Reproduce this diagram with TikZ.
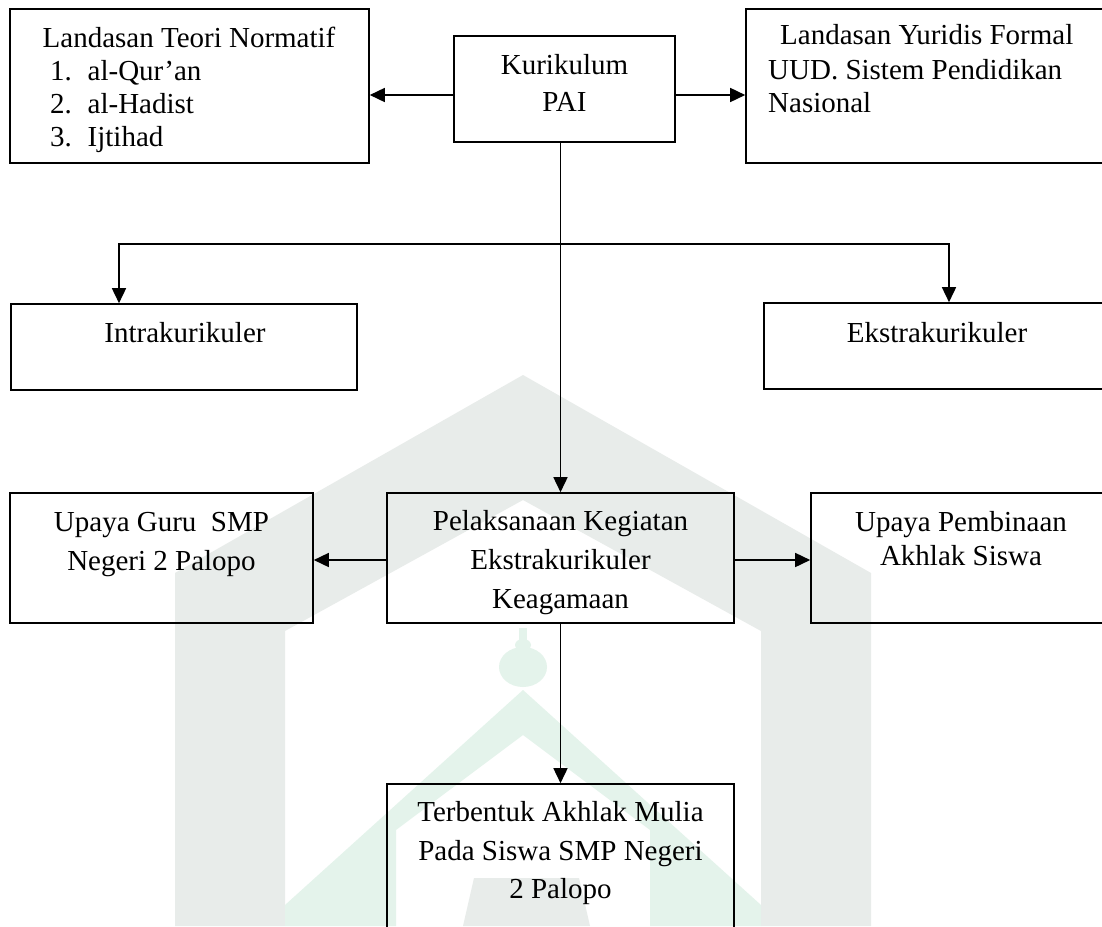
\documentclass[tikz,border=0pt]{standalone}
\usepackage{fontspec}
\setmainfont{Liberation Serif}
\usetikzlibrary{arrows.meta,calc}
\definecolor{wmgray}{RGB}{232,236,234}
\definecolor{wmgreen}{RGB}{228,243,235}
\begin{document}
\begin{tikzpicture}[x=1pt,y=-1pt,
  box/.style={draw, line width=1.6pt, inner sep=0pt},
  txt/.style={inner sep=0pt, anchor=base, font=\fontsize{29}{34}\selectfont},
  ltxt/.style={txt, anchor=base west},
  conn/.style={line width=1.6pt},
  arr/.style={conn, -{Triangle[length=15pt,width=14pt]}},
  darr/.style={conn, {Triangle[length=15pt,width=14pt]}-{Triangle[length=15pt,width=14pt]}},
]
\clip (0,0) rectangle (1102,926);
\fill[white] (0,0) rectangle (1102,926);
% watermark (faint)
\fill[wmgray] (175,926) -- (175,573) -- (523,375) -- (871,573) -- (871,926) -- (761,926)
  -- (761,631) -- (523,500) -- (285,631) -- (285,926) -- cycle;
\fill[wmgreen] (285,905) -- (523,690) -- (761,905) -- (761,926) -- (650,926) -- (650,830)
  -- (523,735) -- (396,830) -- (396,926) -- (285,926) -- cycle;
\fill[wmgreen] (523,667) ellipse [x radius=24pt, y radius=20pt];
\fill[wmgreen] (519,628) rectangle (527,648);
\fill[wmgreen] (523,645) ellipse [x radius=8pt, y radius=6pt];
\fill[wmgray] (474,878) -- (579,878) -- (590,926) -- (463,926) -- cycle;

% boxes
\node[box, minimum width=359pt, minimum height=154pt] (b1) at (189.5,86) {};
\node[box, minimum width=221pt, minimum height=106pt] (kur) at (564.5,89) {};
\node[box, minimum width=358pt, minimum height=154pt] (b3) at (925,86) {};
\node[box, minimum width=346pt, minimum height=86pt] (intra) at (184,347) {};
\node[box, minimum width=340pt, minimum height=86pt] (ekstra) at (934,346) {};
\node[box, minimum width=303pt, minimum height=130pt] (guru) at (161.5,558) {};
\node[box, minimum width=347pt, minimum height=130pt] (pel) at (560.5,558) {};
\node[box, minimum width=293pt, minimum height=130pt] (pemb) at (957.5,558) {};
\node[box, minimum width=347pt, minimum height=160pt] (terb) at (560.5,864) {};

% texts
\node[txt] (t11) at (189,47) {Landasan Teori Normatif};
\node[ltxt] (t12n) at (50,80.7) {1.};
\node[ltxt] (t12) at (87.5,80.7) {al-Qur'an};
\node[ltxt] (t13n) at (50,113.5) {2.};
\node[ltxt] (t13) at (87.5,113.5) {al-Hadist};
\node[ltxt] (t14n) at (50,146.7) {3.};
\node[ltxt] (t14) at (87.5,146.7) {Ijtihad};

\node[txt] (tk1) at (564.5,74) {Kurikulum};
\node[txt] (tk2) at (564.5,111.5) {PAI};

\node[ltxt] (t31) at (780,44) {Landasan Yuridis Formal};
\node[ltxt] (t32) at (768,79) {UUD. Sistem Pendidikan};
\node[ltxt] (t33) at (768,112) {Nasional};

\node[txt] (ti) at (185,342) {Intrakurikuler};
\node[txt] (te) at (937,342) {Ekstrakurikuler};

\node[txt] (tg1) at (161.5,531.5) {Upaya Guru\ \ SMP};
\node[txt] (tg2) at (161.5,570) {Negeri 2 Palopo};

\node[txt] (tp1) at (560.5,530.7) {Pelaksanaan Kegiatan};
\node[txt] (tp2) at (560.5,569.5) {Ekstrakurikuler};
\node[txt] (tp3) at (560.5,608) {Keagamaan};

\node[txt] (tb1) at (961,531.5) {Upaya Pembinaan};
\node[txt] (tb2) at (961,565) {Akhlak Siswa};

\node[txt] (tt1) at (560.5,821.7) {Terbentuk Akhlak Mulia};
\node[txt] (tt2) at (560.5,860) {Pada Siswa SMP Negeri};
\node[txt] (tt3) at (560.5,898) {2 Palopo};

% connectors
\path (kur.west) ++(0,6) coordinate (kw);
\path (kur.east) ++(0,6) coordinate (ke);
\draw[arr] (kw) -- (kw -| b1.east);
\draw[arr] (ke) -- (ke -| b3.west);
\draw[arr] (pel.north |- kur.south) -- (pel.north);
\coordinate (ia) at (119,244);
\coordinate (ea) at (949,244);
\draw[darr, line join=miter] (ia |- intra.north) -- (ia) -- (ea) -- (ea |- ekstra.north);
\path (pel.west) ++(0,2) coordinate (pw);
\path (pel.east) ++(0,2) coordinate (pe);
\draw[arr] (pw) -- (pw -| guru.east);
\draw[arr] (pe) -- (pe -| pemb.west);
\draw[arr] (pel.south) -- (terb.north);
\end{tikzpicture}
\end{document}
